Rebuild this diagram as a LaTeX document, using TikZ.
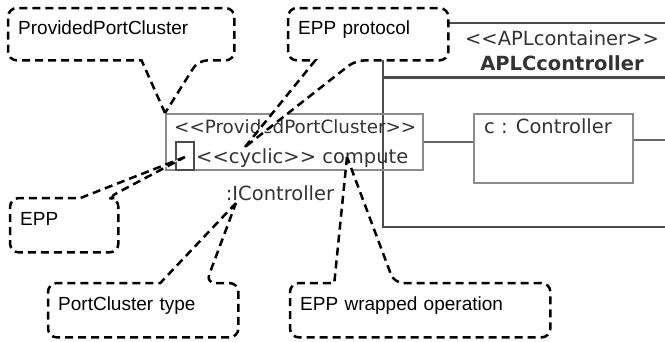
\documentclass[tikz,border=0pt]{standalone}
\usepackage{fontspec}
\setmainfont{Liberation Sans}
\newfontfamily\umlfont{DejaVu Sans}
\usetikzlibrary{calc, positioning}
\newcommand*{\lguil}{<\kern0pt<}
\newcommand*{\rguil}{>\kern0pt>}
\tikzstyle{box} = [draw=black!45, line width=1.5pt, rectangle, inner sep=0pt]
\tikzstyle{uml} = [font=\umlfont\fontsize{19.5}{23}\selectfont, text=black!80, inner sep=0pt]
\tikzstyle{note} = [rectangle, rounded corners=9pt, fill=white, anchor=north west, inner xsep=10pt, align=left, text height=12pt, text depth=12pt, font=\fontsize{19}{23}\selectfont]
\tikzstyle{bubble} = [line width=2.5pt, dash pattern=on 8pt off 5pt]
\tikzstyle{wire} = [draw=black!60, line width=1.5pt]
\tikzstyle{frame} = [draw=black!70, line width=1.5pt]

\begin{document}
\begin{tikzpicture}[x=1pt, y=-1pt]
    \useasboundingbox (0,0) rectangle (665,341);

    % Container.
    \draw [frame] (665,23) -- (383,23) -- (383,227) -- (665,227);
    \draw [frame, line width=3pt] (383,77) -- (665,77);
    \node (cstereo) [uml, anchor=base] at (562,45) {\lguil APLcontainer\rguil};
    \node (cname) [uml, anchor=base] at (562,70) {\bfseries APLCcontroller};

    % Port cluster and part.
    \node (port) [box, minimum width=257pt, minimum height=56pt, anchor=north west] at (165,113) {};
    \node (part) [box, minimum width=159pt, minimum height=69pt, anchor=north west] at (473,113) {};
    \node (epp) [box, draw=black!70, minimum width=18pt, minimum height=28pt, anchor=south west] at ($(port.south west)+(10,0)$) {};

    \node (stereo) [uml, font=\umlfont\fontsize{18.3}{22}\selectfont, anchor=base west] at (174,133) {\lguil ProvidedPortCluster\rguil};
    \node (op) [uml, anchor=base west] at (196,163) {\lguil cyclic\rguil\ compute};
    \node (iface) [uml, anchor=base] at (280,200) {:IController};
    \node (name) [uml, anchor=base west] at (484,133) {c : Controller};

    % Connectors.
    \coordinate (edge) at (665,140);
    \draw [wire] (port.east) -- (part.west |- port.east);
    \draw [wire] (part.east |- edge) -- (edge);

    % Notes.
    \node (ppc) [note, text width=206pt, minimum height=52pt] at (8,8) {ProvidedPortCluster};
    \node (proto) [note, text width=140pt, minimum height=52pt] at (288,8) {EPP protocol};
    \node (eppnote) [note, text width=88pt, minimum height=54pt] at (10,198) {EPP};
    \node (type) [note, text width=170pt, minimum height=54pt] at (48,283) {PortCluster type};
    \node (wrapped) [note, text width=240pt, minimum height=54pt] at (290,283) {EPP wrapped operation};

    \coordinate (ppc-tip) at (port.north west);
    \coordinate (proto-tip) at (245,147);
    \coordinate (eppnote-tip) at (185,157);
    \coordinate (type-tip) at (236,203);
    \coordinate (wrapped-tip) at (347,157);

    \foreach \n/\near/\far/\a/\b in {ppc/south/north/0.59/0.84, proto/south/north/0.17/0.42,
            eppnote/north/south/0.65/0.9, type/north/south/0.59/0.83, wrapped/north/south/0.17/0.4} {
        \coordinate (\n-l) at (\n.west |- \n.\near);
        \coordinate (\n-r) at (\n.east |- \n.\near);
        \coordinate (\n-a) at ($(\n-l)!\a!(\n-r)$);
        \coordinate (\n-b) at ($(\n-l)!\b!(\n-r)$);
        \fill [white] (\n-a) -- (\n-tip) -- (\n-b) -- cycle;
        \draw [bubble] (\n-tip) -- (\n-a) [rounded corners=9pt] -- (\n-l) -- (\n.west |- \n.\far)
            -- (\n.east |- \n.\far) -- (\n-r) -- (\n-b) [sharp corners] -- (\n-tip);
    }
\end{tikzpicture}
\end{document}
